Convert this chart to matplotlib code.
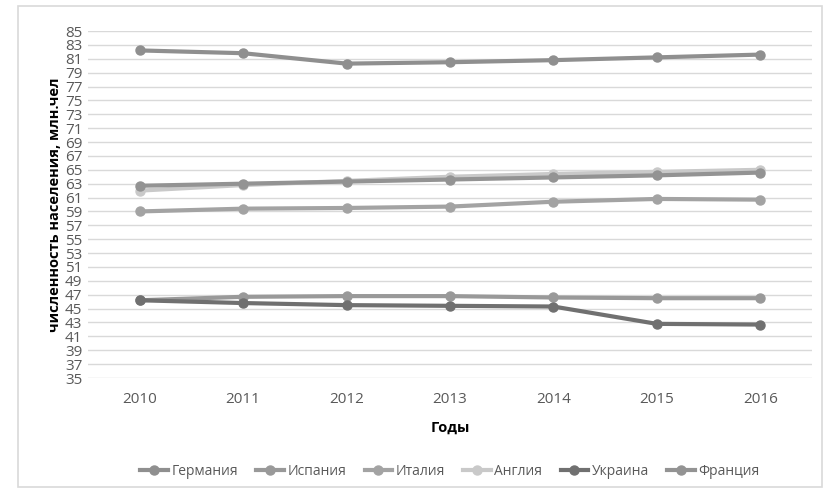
import numpy as np
import matplotlib.pyplot as plt
from matplotlib.patches import Rectangle

plt.rcParams['font.family'] = ['Open Sans', 'DejaVu Sans']

years = [2010, 2011, 2012, 2013, 2014, 2015, 2016]
germany = [82.2, 81.8, 80.3, 80.5, 80.8, 81.2, 81.6]
spain = [46.2, 46.7, 46.8, 46.8, 46.6, 46.5, 46.5]
italy = [59.0, 59.4, 59.5, 59.7, 60.4, 60.8, 60.7]
england = [62.0, 62.8, 63.4, 64.0, 64.4, 64.7, 65.0]
ukraine = [46.2, 45.8, 45.5, 45.4, 45.3, 42.8, 42.7]
france = [62.7, 63.0, 63.3, 63.6, 63.9, 64.2, 64.6]

series = [
    ('Германия', germany, '#8f8f8f'),
    ('Испания', spain, '#999999'),
    ('Италия', italy, '#a3a3a3'),
    ('Англия', england, '#c9c9c9'),
    ('Украина', ukraine, '#707070'),
    ('Франция', france, '#939393'),
]

fig = plt.figure(figsize=(8.24, 4.93), dpi=100)
fig.patches.append(Rectangle((18/824, 6/493), 804/824, 481/493, transform=fig.transFigure,
                             fill=False, edgecolor='#d9d9d9', lw=1.2))
ax = fig.add_axes([88/824, 1-378/493, 724/824, 347/493])

for name, vals, col in series:
    ax.plot(years, vals, color=col, lw=3, marker='o', ms=6.5, label=name)

ax.set_xlim(2009.5, 2016.5)
ax.set_ylim(35, 85)
ax.set_yticks(np.arange(35, 86, 2))
ax.set_xticks(years)
ax.grid(axis='y', color='#d9d9d9', lw=1)
ax.set_axisbelow(True)
for s in ax.spines.values():
    s.set_visible(False)
ax.tick_params(length=0, colors='#595959', labelsize=11)
ax.tick_params(axis='x', pad=10)
ax.tick_params(axis='y', pad=4)

ax.set_xlabel('Годы', fontsize=10.5, fontweight='bold', labelpad=10)
ax.set_ylabel('численность населения, млн.чел', fontsize=10.5, fontweight='bold', labelpad=2)

ax.legend(loc='center', bbox_to_anchor=(0.5, -0.27), ncol=6, frameon=False,
          fontsize=10, labelcolor='#595959', handlelength=2.0, columnspacing=1.3,
          handletextpad=0.25)

fig.savefig('out.png', dpi=100)
